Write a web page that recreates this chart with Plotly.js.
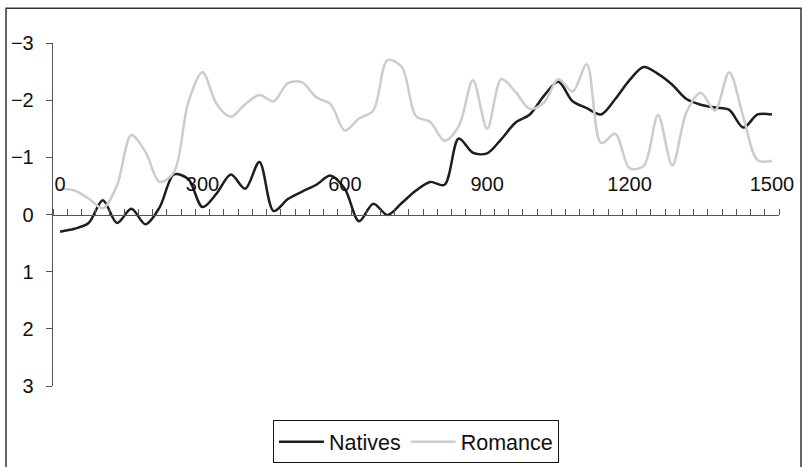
<!DOCTYPE html>
<html>
<head>
<meta charset="utf-8">
<script src="https://cdn.plot.ly/plotly-3.0.1.min.js"></script>
<style>
html,body{margin:0;padding:0;background:#fff;}
#chart{width:803px;height:467px;}
</style>
</head>
<body>
<div id="chart"></div>
<script>
var categories = [0,30,60,90,120,150,180,210,240,270,300,330,360,390,420,450,480,510,540,570,600,630,660,690,720,750,780,810,840,870,900,930,960,990,1020,1050,1080,1110,1140,1170,1200,1230,1260,1290,1320,1350,1380,1410,1440,1470,1500];

var natives = [0.3,0.25,0.15,-0.25,0.15,-0.1,0.17,-0.13,-0.7,-0.62,-0.13,-0.37,-0.7,-0.45,-0.92,-0.06,-0.27,-0.4,-0.52,-0.68,-0.45,0.12,-0.19,0.01,-0.2,-0.42,-0.57,-0.52,-1.33,-1.08,-1.07,-1.32,-1.61,-1.75,-2.08,-2.32,-1.98,-1.86,-1.75,-2.02,-2.35,-2.58,-2.46,-2.27,-2.02,-1.92,-1.87,-1.83,-1.52,-1.75,-1.75];

var romance = [-0.45,-0.42,-0.28,-0.11,-0.51,-1.39,-1.09,-0.57,-0.74,-1.96,-2.49,-1.93,-1.71,-1.93,-2.09,-1.98,-2.3,-2.31,-2.05,-1.93,-1.47,-1.68,-1.82,-2.7,-2.58,-1.72,-1.62,-1.29,-1.54,-2.35,-1.5,-2.37,-2.14,-1.85,-1.96,-2.37,-2.15,-2.63,-1.25,-1.41,-0.81,-0.85,-1.74,-0.86,-1.79,-2.13,-1.82,-2.49,-1.7,-0.95,-0.94];

var xTickVals = [0,300,600,900,1200,1500];
var xTickText = ['0','300','600','900','1200','1500'];
var yTickVals = [-3,-2,-1,0,1,2,3];
var yTickText = ['\u22123','\u22122','\u22121','0','1','2','3'];

var font = 'Liberation Sans, Arial, Helvetica, sans-serif';

var traces = [
  {x: categories, y: natives, name: 'Natives', type: 'scatter', mode: 'lines',
   line: {color: '#1e1e1e', width: 2.5, shape: 'spline', smoothing: 0.9}},
  {x: categories, y: romance, name: 'Romance', type: 'scatter', mode: 'lines',
   line: {color: '#cccccc', width: 2.5, shape: 'spline', smoothing: 0.9}}
];

var layout = {
  width: 803, height: 467,
  margin: {l: 53, r: 24, t: 43, b: 81, autoexpand: false},
  paper_bgcolor: '#fff', plot_bgcolor: '#fff',
  font: {family: font, size: 20, color: '#111'},
  showlegend: true,
  legend: {orientation: 'h', xref: 'container', yref: 'container',
           x: 0.518, xanchor: 'center', y: 0.1, yanchor: 'top',
           itemwidth: 45,
           bordercolor: '#111', borderwidth: 1, font: {family: font, size: 21.5, color: '#111'},
           bgcolor: '#fff'},
  xaxis: {
    range: [-15, 1515], anchor: 'free', position: 0.5, side: 'top', automargin: false,
    showline: true, linecolor: '#555', linewidth: 1.3,
    showgrid: false, zeroline: false,
    tickmode: 'array', tickvals: xTickVals, ticktext: xTickText,
    ticks: '', ticklabelstandoff: 16,
    tickfont: {family: font, size: 20, color: '#111'},
    minor: {tickmode: 'linear', tick0: -15, dtick: 30, ticks: 'outside', ticklen: 6, tickcolor: '#555', tickwidth: 1, showgrid: false}
  },
  yaxis: {
    range: [3, -3], showline: true, linecolor: '#555', linewidth: 1.3, automargin: false,
    showgrid: false, zeroline: false,
    tickmode: 'array', tickvals: yTickVals, ticktext: yTickText,
    ticks: 'outside', ticklen: 6, tickcolor: '#555', tickwidth: 1,
    ticklabelstandoff: 8,
    tickfont: {family: font, size: 20, color: '#111'}
  },
  shapes: [
    {type: 'rect', xref: 'paper', yref: 'paper', x0: -0.0647, x1: 1.0303, y0: -0.27, y1: 1.1012,
     line: {color: '#333', width: 1.5}, fillcolor: 'rgba(0,0,0,0)', layer: 'below'}
  ]
};

Plotly.newPlot('chart', traces, layout, {displayModeBar: false, staticPlot: true});
</script>
</body>
</html>
